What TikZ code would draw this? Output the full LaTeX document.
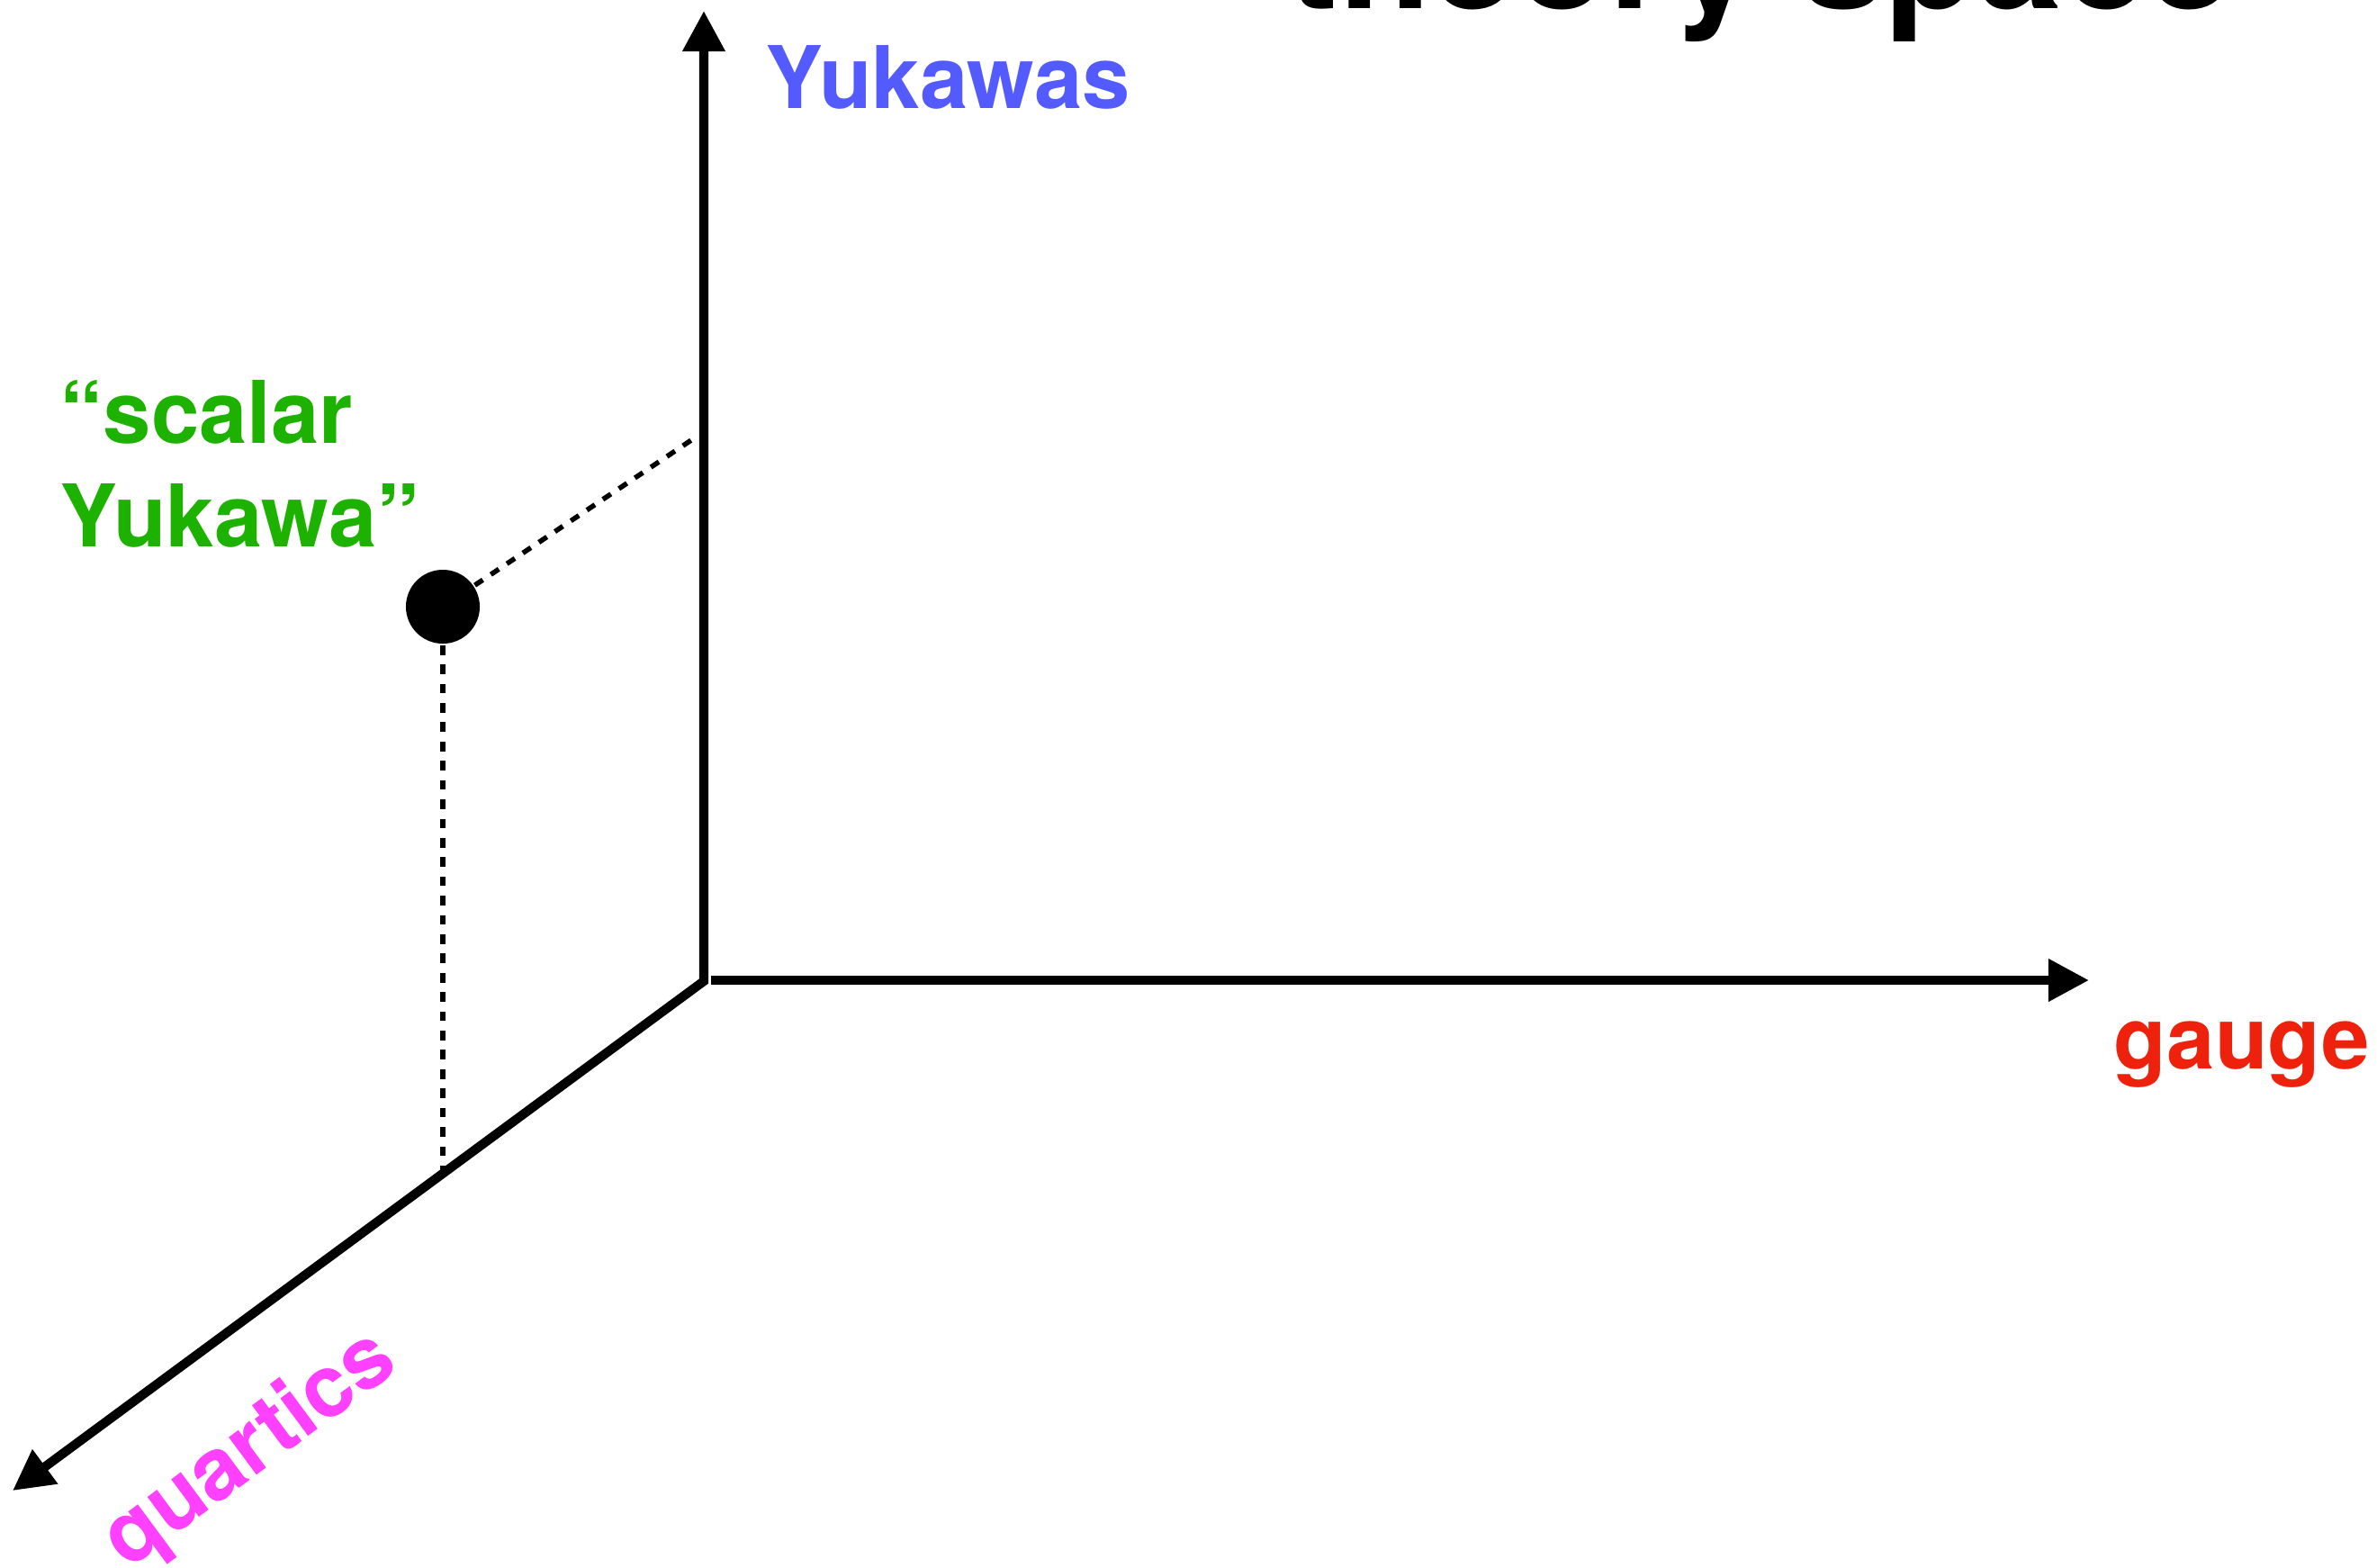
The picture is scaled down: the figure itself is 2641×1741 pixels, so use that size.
\documentclass[tikz,border=0pt]{standalone}
\usepackage{fontspec}
\setmainfont{TeX Gyre Heros}
\usetikzlibrary{arrows.meta}
\definecolor{yukblue}{RGB}{83,91,255}
\definecolor{gaugered}{RGB}{238,34,12}
\definecolor{scalgreen}{RGB}{29,177,0}
\definecolor{quartmag}{RGB}{255,64,255}
\tikzset{
  axisline/.style={line width=0.102cm, line join=miter},
  proj/.style={line width=0.055cm, dash pattern=on 0.107cm off 0.107cm},
  lbl/.style={inner sep=0pt, font=\fontsize{27.3}{32.7}\selectfont\bfseries},
  titlelbl/.style={inner sep=0pt, font=\fontsize{48.2}{58}\selectfont\bfseries},
}
\begin{document}
\begin{tikzpicture}[x=0.01cm,y=-0.01cm]
\useasboundingbox (0,0) rectangle (2641,1741);
\clip (0,0) rectangle (2641,1741);

% axes: Yukawas (up), gauge (right), quartics (down-left)
\coordinate (O) at (782,1090);
\coordinate (ytip) at (782,12);
\coordinate (xstart) at (790,1089);
\coordinate (xtip) at (2321,1089);
\coordinate (ztip) at (14,1656);

\draw[axisline, {Triangle[length=0.45cm,width=0.45cm]}-{Triangle[length=0.45cm,width=0.45cm]}] (ytip) -- (O) -- (ztip);
\draw[axisline, -{Triangle[length=0.45cm,width=0.45cm]}] (xstart) -- (xtip);

% the point and its projections onto the axes
\coordinate (yproj) at (771,487);
\coordinate (zproj) at (492,1302);
\draw[proj] (492,674) -- (yproj);
\draw[proj] (492,674) -- (zproj);
\node[circle, fill=black, inner sep=0pt, minimum size=0.82cm] (pt) at (492,674) {};

% labels
\node[titlelbl, anchor=base west] (title) at (1430,9) {theory space};
\node[lbl, text=yukblue, anchor=base west] (ylbl) at (850,120) {Yukawas};
\node[lbl, text=gaugered, anchor=base west] (xlbl) at (2348,1187) {gauge};
\node[lbl, text=quartmag, rotate=36.5] (zlbl) at (279,1612) {quartics};
\node[lbl, text=scalgreen, align=left, anchor=north west] (ptlbl) at (66,422) {“scalar\\Yukawa”};
\end{tikzpicture}
\end{document}
